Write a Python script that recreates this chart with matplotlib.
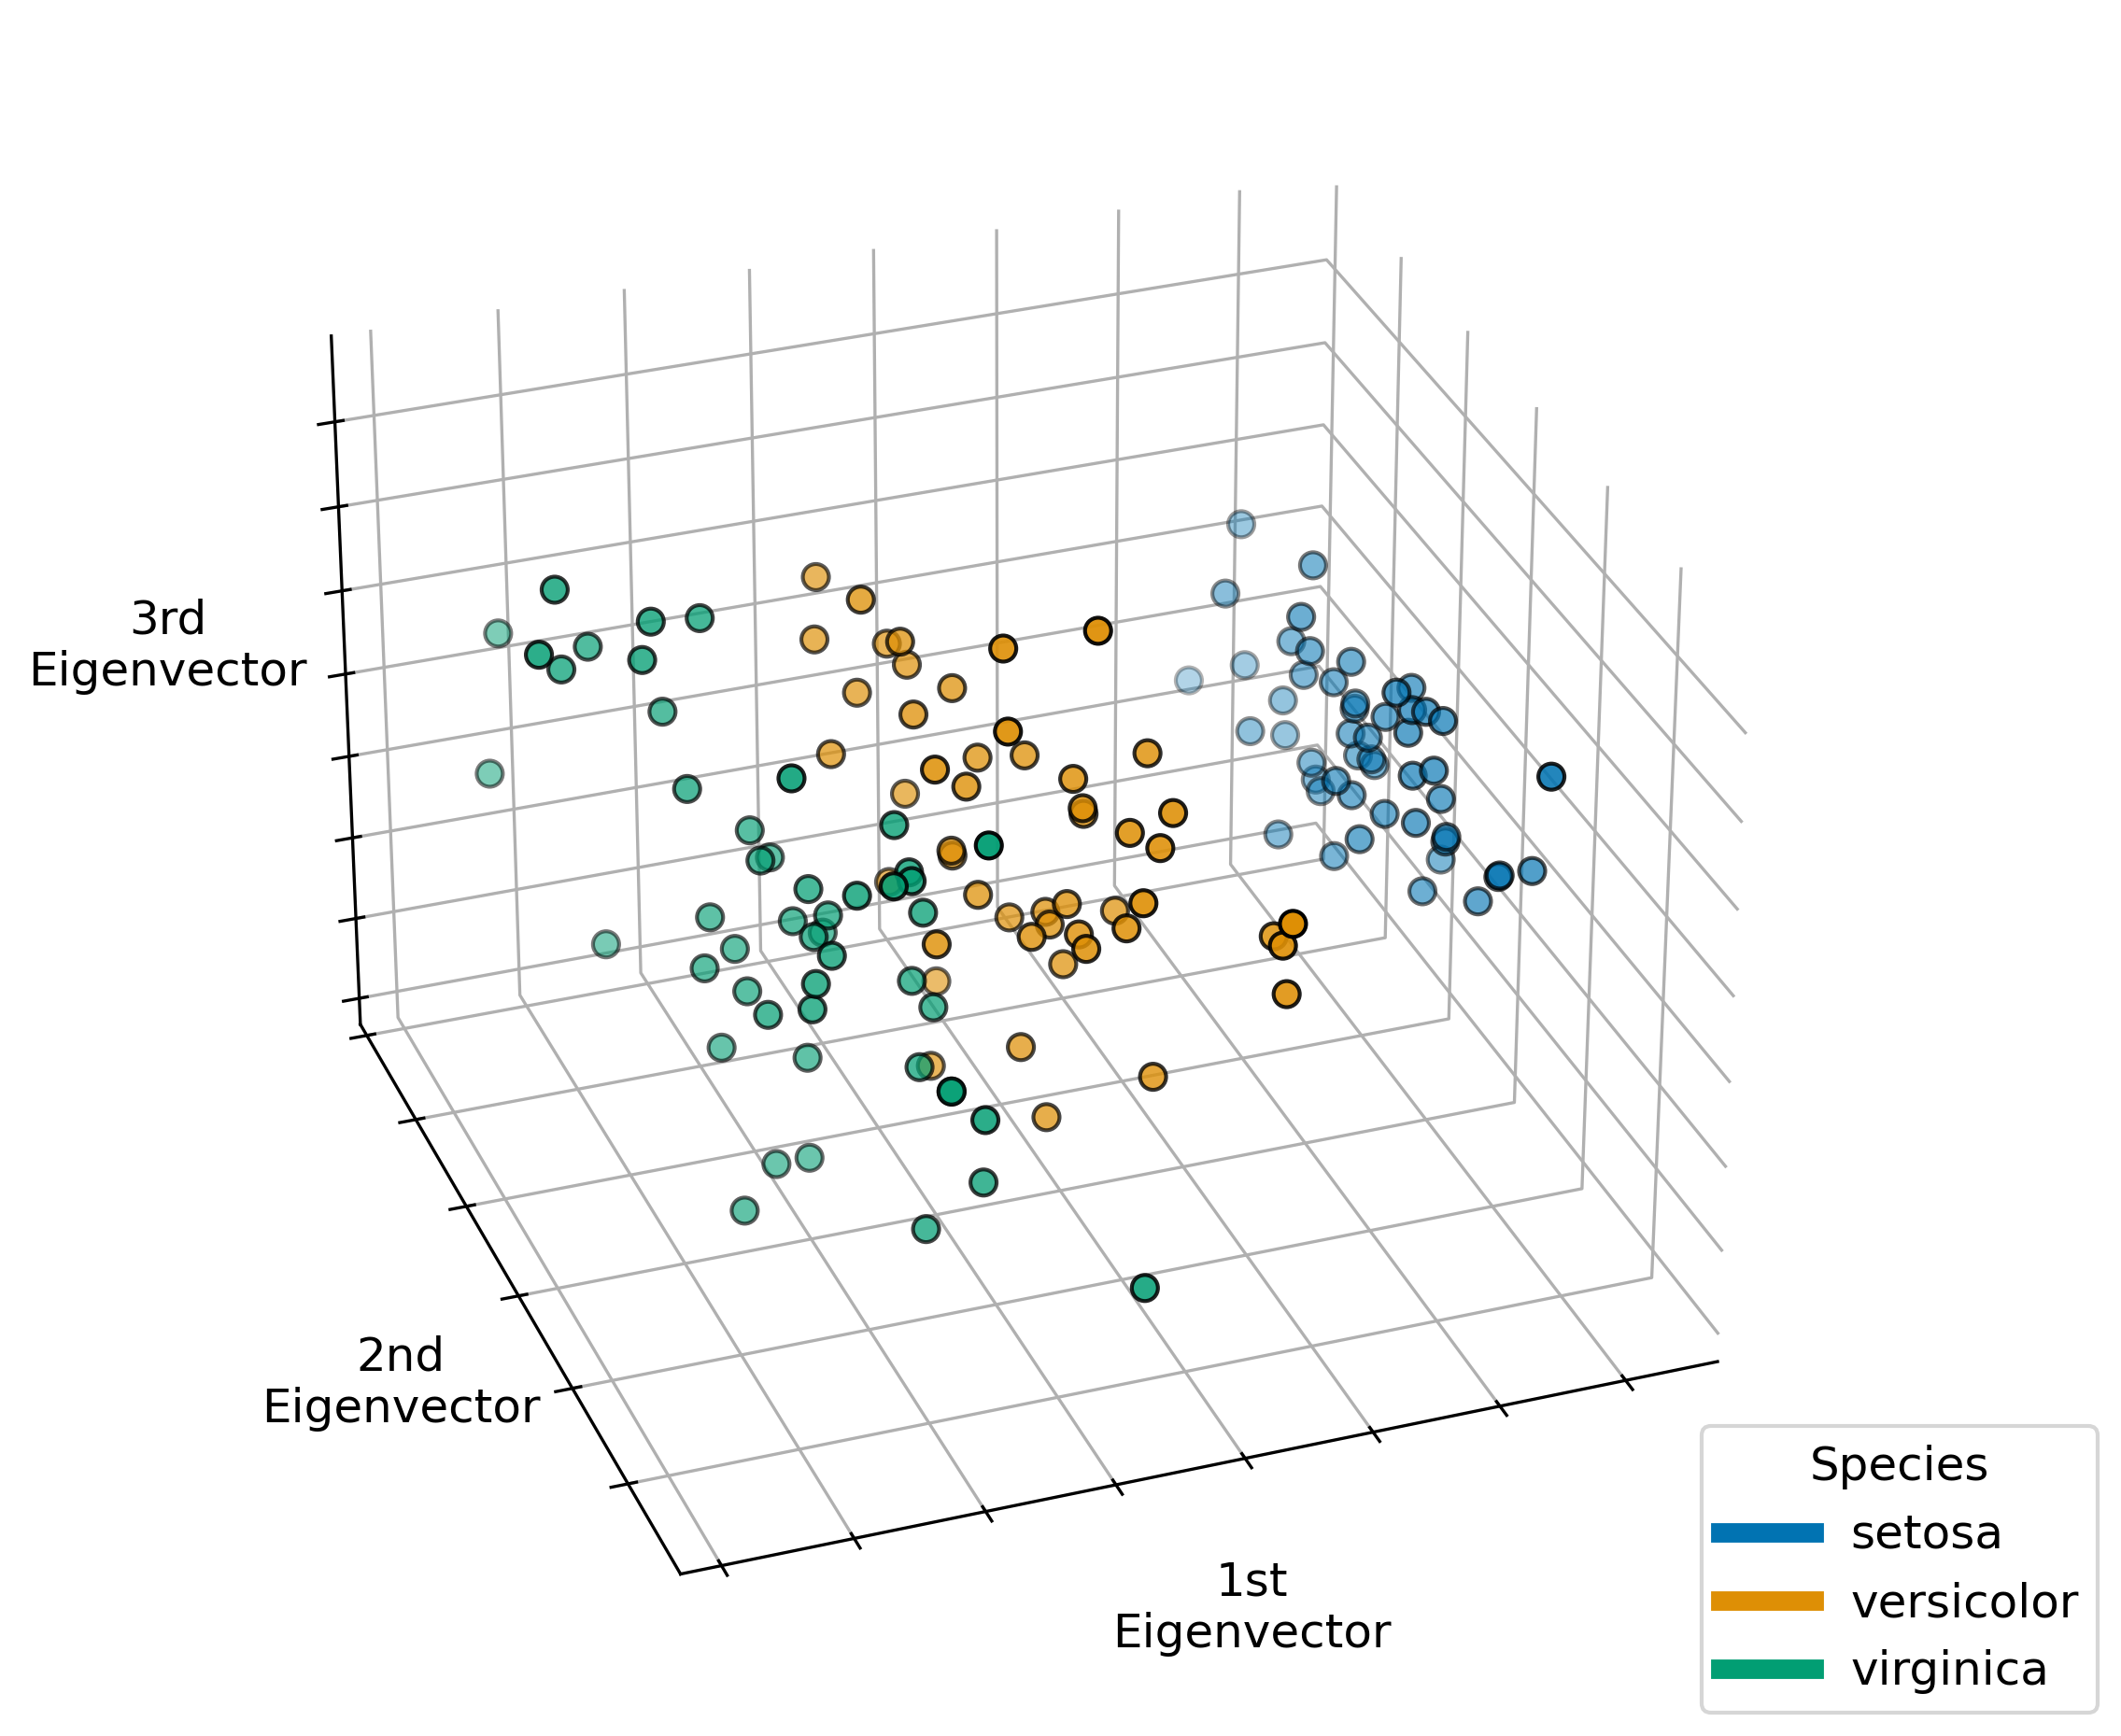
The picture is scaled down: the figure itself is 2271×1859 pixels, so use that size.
import numpy as np
import matplotlib
matplotlib.use('Agg')
import matplotlib.pyplot as plt
from matplotlib.lines import Line2D

species = ['setosa', 'versicolor', 'virginica']
colors = ['#0173b2', '#de8f05', '#029e73']

setosa = [
    [-2.684, 0.319, -0.028], [-2.714, -0.177, -0.210], [-2.889, -0.145, 0.018], [-2.745, -0.318, 0.032],
    [-2.729, 0.327, 0.090], [-2.281, 0.741, 0.168], [-2.821, -0.089, 0.258], [-2.626, 0.163, -0.022],
    [-2.886, -0.578, 0.027], [-2.672, -0.114, -0.192], [-2.507, 0.645, -0.075], [-2.613, 0.015, 0.102],
    [-2.787, -0.235, -0.207], [-3.225, -0.511, 0.062], [-2.644, 1.179, -0.152], [-2.386, 1.338, 0.278],
    [-2.624, 0.811, 0.138], [-2.648, 0.312, 0.027], [-2.199, 0.873, -0.120], [-2.588, 0.514, 0.214],
    [-2.311, 0.391, -0.239], [-2.543, 0.433, 0.208], [-3.216, 0.133, 0.292], [-2.303, 0.098, 0.039],
    [-2.356, -0.037, 0.128], [-2.507, -0.146, -0.254], [-2.469, 0.131, 0.095], [-2.562, 0.368, -0.079],
    [-2.640, 0.312, -0.145], [-2.633, -0.196, 0.041], [-2.588, -0.205, -0.077], [-2.410, 0.411, -0.145],
    [-2.649, 0.813, 0.225], [-2.599, 1.093, 0.158], [-2.637, -0.121, -0.143], [-2.867, 0.069, -0.164],
    [-2.625, 0.599, -0.268], [-2.801, 0.268, 0.094], [-2.980, -0.488, 0.072], [-2.590, 0.229, -0.080],
    [-2.770, 0.264, 0.077], [-2.849, -0.941, -0.349], [-2.998, -0.334, 0.193], [-2.405, 0.195, 0.264],
    [-2.209, 0.442, 0.299], [-2.715, -0.243, -0.097], [-2.538, 0.503, 0.166], [-2.840, -0.228, 0.084],
    [-2.543, 0.579, -0.017], [-2.704, 0.107, -0.089],
]
versicolor = [
    [1.285, 0.685, -0.407], [0.932, 0.318, -0.018], [1.464, 0.504, -0.338], [0.181, -0.825, -0.177],
    [1.087, 0.075, -0.307], [0.640, -0.418, 0.041], [1.095, 0.284, 0.170], [-0.749, -1.004, 0.012],
    [1.044, 0.229, -0.415], [-0.009, -0.723, 0.281], [-0.508, -1.265, -0.270], [0.511, -0.104, 0.130],
    [0.265, -0.550, -0.694], [0.984, -0.125, -0.062], [-0.174, -0.255, 0.091], [0.928, 0.468, -0.314],
    [0.660, -0.352, 0.328], [0.236, -0.333, -0.271], [0.944, -0.543, -0.499], [0.045, -0.584, -0.235],
    [1.116, -0.085, 0.459], [0.357, -0.069, -0.229], [1.298, -0.327, -0.347], [0.921, -0.183, -0.231],
    [0.714, 0.150, -0.320], [0.900, 0.329, -0.316], [1.332, 0.245, -0.521], [1.557, 0.267, -0.165],
    [0.813, -0.163, 0.036], [-0.306, -0.368, -0.315], [-0.068, -0.705, -0.242], [-0.190, -0.680, -0.306],
    [0.136, -0.314, -0.177], [1.380, -0.421, 0.016], [0.587, -0.484, 0.444], [0.807, 0.195, 0.389],
    [1.221, 0.408, -0.237], [0.815, -0.372, -0.615], [0.246, -0.268, 0.189], [0.165, -0.682, -0.060],
    [0.464, -0.670, -0.024], [0.890, -0.034, -0.009], [0.230, -0.402, -0.230], [-0.705, -1.012, -0.106],
    [0.357, -0.504, 0.016], [0.332, -0.212, 0.083], [0.376, -0.292, 0.078], [0.642, 0.018, -0.205],
    [-0.906, -0.756, -0.012], [0.298, -0.349, 0.011],
]
virginica = [
    [2.531, -0.010, 0.760], [1.415, -0.575, 0.296], [2.616, 0.343, -0.110], [1.971, -0.181, 0.108],
    [2.350, -0.042, 0.284], [3.397, 0.547, -0.352], [0.519, -1.192, 0.547], [2.933, 0.352, -0.424],
    [2.321, -0.246, -0.350], [2.917, 0.783, 0.422], [1.662, 0.242, 0.243], [1.803, -0.216, -0.038],
    [2.165, 0.216, 0.033], [1.345, -0.776, 0.282], [1.585, -0.539, 0.630], [1.904, 0.119, 0.480],
    [1.949, 0.041, 0.042], [3.488, 1.175, 0.133], [3.795, 0.257, -0.517], [1.300, -0.761, -0.345],
    [2.428, 0.378, 0.219], [1.198, -0.606, 0.512], [3.499, 0.461, -0.574], [1.388, -0.204, -0.065],
    [2.276, 0.333, 0.285], [2.614, 0.558, -0.208], [1.258, -0.179, 0.047], [1.291, -0.117, 0.232],
    [2.123, -0.210, 0.154], [2.388, 0.465, -0.450], [2.841, 0.375, -0.499], [3.231, 1.374, -0.115],
    [2.159, -0.217, 0.209], [1.444, -0.143, -0.154], [1.780, -0.500, -0.173], [3.077, 0.685, -0.336],
    [2.144, 0.140, 0.734], [1.905, 0.049, 0.161], [1.169, -0.165, 0.282], [2.108, 0.373, 0.027],
    [2.314, 0.183, 0.323], [1.922, 0.409, 0.116], [1.415, -0.575, 0.296], [2.563, 0.278, 0.293],
    [2.419, 0.305, 0.504], [1.944, 0.188, 0.178], [1.527, -0.375, -0.121], [1.764, 0.079, 0.130],
    [1.901, 0.117, 0.723], [1.390, -0.283, 0.363],
]
z_ticks = [-0.6, -0.4, -0.2, 0.0, 0.2, 0.4, 0.6, 0.8]

points = np.array(setosa + versicolor + virginica)
labels = [0] * len(setosa) + [1] * len(versicolor) + [2] * len(virginica)
point_colors = [colors[i] for i in labels]

plt.rcParams['font.size'] = 12

fig = plt.figure(figsize=(2271 / 300, 1859 / 300), dpi=300)
ax = fig.add_axes([0.0345, 0.0165, 0.87, 0.968], projection='3d', elev=-150, azim=110)

ax.scatter(points[:, 0], points[:, 1], points[:, 2], c=point_colors, s=45, edgecolor='k')

ax.set_zticks(z_ticks)
ax.set_xlabel('1st\nEigenvector', rotation=0)
ax.set_ylabel('2nd\nEigenvector', rotation=0)
ax.zaxis.set_rotate_label(False)
ax.set_zlabel('3rd\nEigenvector', rotation=0, labelpad=10)
ax.xaxis.set_rotate_label(False)
ax.yaxis.set_rotate_label(False)
ax.set_xticklabels([])
ax.set_yticklabels([])
ax.set_zticklabels([])

ax.xaxis.pane.fill = False
ax.yaxis.pane.fill = False
ax.zaxis.pane.fill = False
ax.xaxis.pane.set_edgecolor('none')
ax.yaxis.pane.set_edgecolor('none')
ax.zaxis.pane.set_edgecolor('none')

handles = [Line2D([0], [0], color=c, lw=5) for c in colors]
fig.legend(handles, species, title='Species', loc='lower right')

fig.savefig('out.png', dpi=300)
